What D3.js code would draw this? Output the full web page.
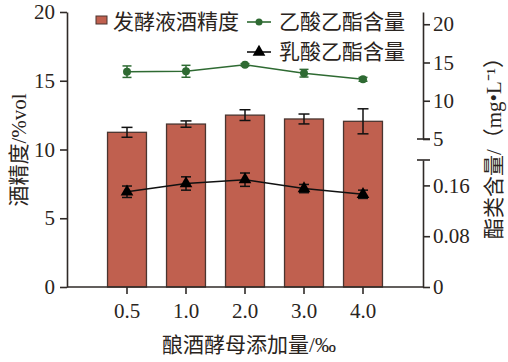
<!DOCTYPE html>
<html><head><meta charset="utf-8">
<script src="https://cdn.jsdelivr.net/npm/d3@7"></script>
<style>
body{margin:0;background:#fff;}
text{font-family:"Liberation Serif","Times New Roman","Noto Sans CJK SC",serif;fill:#2a2420;}
</style></head>
<body>
<svg id="c" width="508" height="362"></svg>
<script>
const categories = ["0.5","1.0","2.0","3.0","4.0"];
const alcohol = [11.25, 11.85, 12.5, 12.22, 12.05];
const alcoholErr = [0.36, 0.23, 0.39, 0.36, 0.91];
const ethylAcetate = [13.8, 13.85, 14.7, 13.6, 12.8];
const ethylAcetateErr = [0.75, 0.78, 0.15, 0.5, 0.25];
const ethylLactate = [0.150, 0.163, 0.169, 0.155, 0.146];
const ethylLactateErr = [0.009, 0.0105, 0.0105, 0.0065, 0.0065];
const leftTicks = [0, 5, 10, 15, 20];
const rightUpperTicks = [5, 10, 15, 20];
const rightLowerTicks = [0, 0.08, 0.16];

const svg = d3.select("#c");
const axisColor = "#2f2a27";
const barFill = "#c0604f", barStroke = "#4a3530", green = "#2e6a32";
const numFont = '"Liberation Serif","Times New Roman",serif';

const x = d3.scaleBand().domain(categories).range([97.5, 392.5]).paddingInner(0.34).paddingOuter(0.17);
const yL = d3.scaleLinear().domain([0, 20]).range([287, 12]);
const yRU = d3.scaleLinear().domain([5, 21.6]).range([139, 12]);
const yRL = d3.scaleLinear().domain([0, 0.2]).range([287, 160]);
const X0 = 67, X1 = 423;

// bars
svg.selectAll("rect.bar").data(alcohol).join("rect")
  .attr("x", (d,i)=>x(categories[i])).attr("width", x.bandwidth())
  .attr("y", d=>yL(d)).attr("height", d=>yL(0)-yL(d))
  .attr("fill", barFill).attr("stroke", barStroke).attr("stroke-width", 1.3);

function errBars(vals, errs, scale, color, cap) {
  const g = svg.append("g").attr("stroke", color).attr("stroke-width", 1.5).attr("fill","none");
  vals.forEach((v,i)=>{
    const cx = x(categories[i]) + x.bandwidth()/2;
    const t = scale(v+errs[i]), b = scale(v-errs[i]);
    g.append("line").attr("x1",cx).attr("x2",cx).attr("y1",t).attr("y2",b);
    g.append("line").attr("x1",cx-cap).attr("x2",cx+cap).attr("y1",t).attr("y2",t);
    g.append("line").attr("x1",cx-cap).attr("x2",cx+cap).attr("y1",b).attr("y2",b);
  });
}
errBars(alcohol, alcoholErr, yL, "#111", 5.5);

const cxf = i => x(categories[i]) + x.bandwidth()/2;

// ethyl acetate
errBars(ethylAcetate, ethylAcetateErr, yRU, green, 4.5);
svg.append("path").datum(ethylAcetate)
  .attr("d", d3.line().x((d,i)=>cxf(i)).y(d=>yRU(d)))
  .attr("fill","none").attr("stroke", green).attr("stroke-width", 1.6);
svg.selectAll("circle.ea").data(ethylAcetate).join("circle")
  .attr("cx",(d,i)=>cxf(i)).attr("cy",d=>yRU(d)).attr("r",4).attr("fill",green);

// ethyl lactate
errBars(ethylLactate, ethylLactateErr, yRL, "#111", 5);
svg.append("path").datum(ethylLactate)
  .attr("d", d3.line().x((d,i)=>cxf(i)).y(d=>yRL(d)))
  .attr("fill","none").attr("stroke", "#111").attr("stroke-width", 1.6);
const tri = d3.symbol().type(d3.symbolTriangle).size(70);
svg.selectAll("path.el").data(ethylLactate).join("path")
  .attr("d", tri).attr("transform",(d,i)=>`translate(${cxf(i)},${yRL(d)})`).attr("fill","#000");

// axes
function styleAxis(g){
  g.selectAll("path.domain").attr("stroke", axisColor).attr("stroke-width",1.6);
  g.selectAll(".tick line").attr("stroke", axisColor).attr("stroke-width",1.6);
  g.selectAll(".tick text").style("font-family",numFont).style("font-size","21px").attr("fill","#2a2420");
}
const gL = svg.append("g").attr("transform",`translate(${X0},0)`)
  .call(d3.axisLeft(yL).tickValues(leftTicks).tickSize(7).tickSizeOuter(0).tickPadding(5));
styleAxis(gL);

const gX = svg.append("g").attr("transform",`translate(0,287)`)
  .call(d3.axisBottom(x).tickSize(7).tickSizeOuter(0).tickPadding(9));
gX.select("path.domain").attr("d", `M${X0},0H${X1}`);
styleAxis(gX);

const gRU = svg.append("g").attr("transform",`translate(${X1},0)`)
  .call(d3.axisRight(yRU).tickValues(rightUpperTicks).tickSize(7).tickSizeOuter(0).tickPadding(3));
styleAxis(gRU);
const gRL = svg.append("g").attr("transform",`translate(${X1},0)`)
  .call(d3.axisRight(yRL).tickValues(rightLowerTicks).tickFormat(d=>d===0?"0":d3.format(".2f")(d)).tickSize(7).tickSizeOuter(0).tickPadding(3));
styleAxis(gRL);
// break caps
[yRU(5), yRL(0.2)].forEach(yy=>{
  svg.append("line").attr("x1",X1-6).attr("x2",X1+7).attr("y1",yy).attr("y2",yy)
    .attr("stroke",axisColor).attr("stroke-width",1.6);
});

// axis titles
svg.append("text").attr("transform","translate(26,150) rotate(-90)").attr("text-anchor","middle")
  .style("font-size","21px").text("酒精度/%vol");
svg.append("text").attr("transform","translate(501,143) rotate(-90)").attr("text-anchor","middle")
  .style("font-size","21px").text("酯类含量/（mg•L⁻¹）");
svg.append("text").attr("x",249).attr("y",352).attr("text-anchor","middle")
  .style("font-size","21px").text("酿酒酵母添加量/‰");

// legend
svg.append("rect").attr("x",96).attr("y",16).attr("width",11).attr("height",8)
  .attr("fill",barFill).attr("stroke",barStroke).attr("stroke-width",1);
svg.append("text").attr("x",113).attr("y",29).style("font-size",21).text("发酵液酒精度");
svg.append("line").attr("x1",247).attr("x2",271).attr("y1",22).attr("y2",22).attr("stroke",green).attr("stroke-width",1.6);
svg.append("circle").attr("cx",259).attr("cy",22).attr("r",3.5).attr("fill",green);
svg.append("text").attr("x",279).attr("y",29).style("font-size",21).text("乙酸乙酯含量");
svg.append("line").attr("x1",247).attr("x2",271).attr("y1",52).attr("y2",52).attr("stroke","#111").attr("stroke-width",1.6);
svg.append("path").attr("d",tri).attr("transform","translate(259,52)").attr("fill","#000");
svg.append("text").attr("x",279).attr("y",59).style("font-size",21).text("乳酸乙酯含量");
</script>
</body></html>
